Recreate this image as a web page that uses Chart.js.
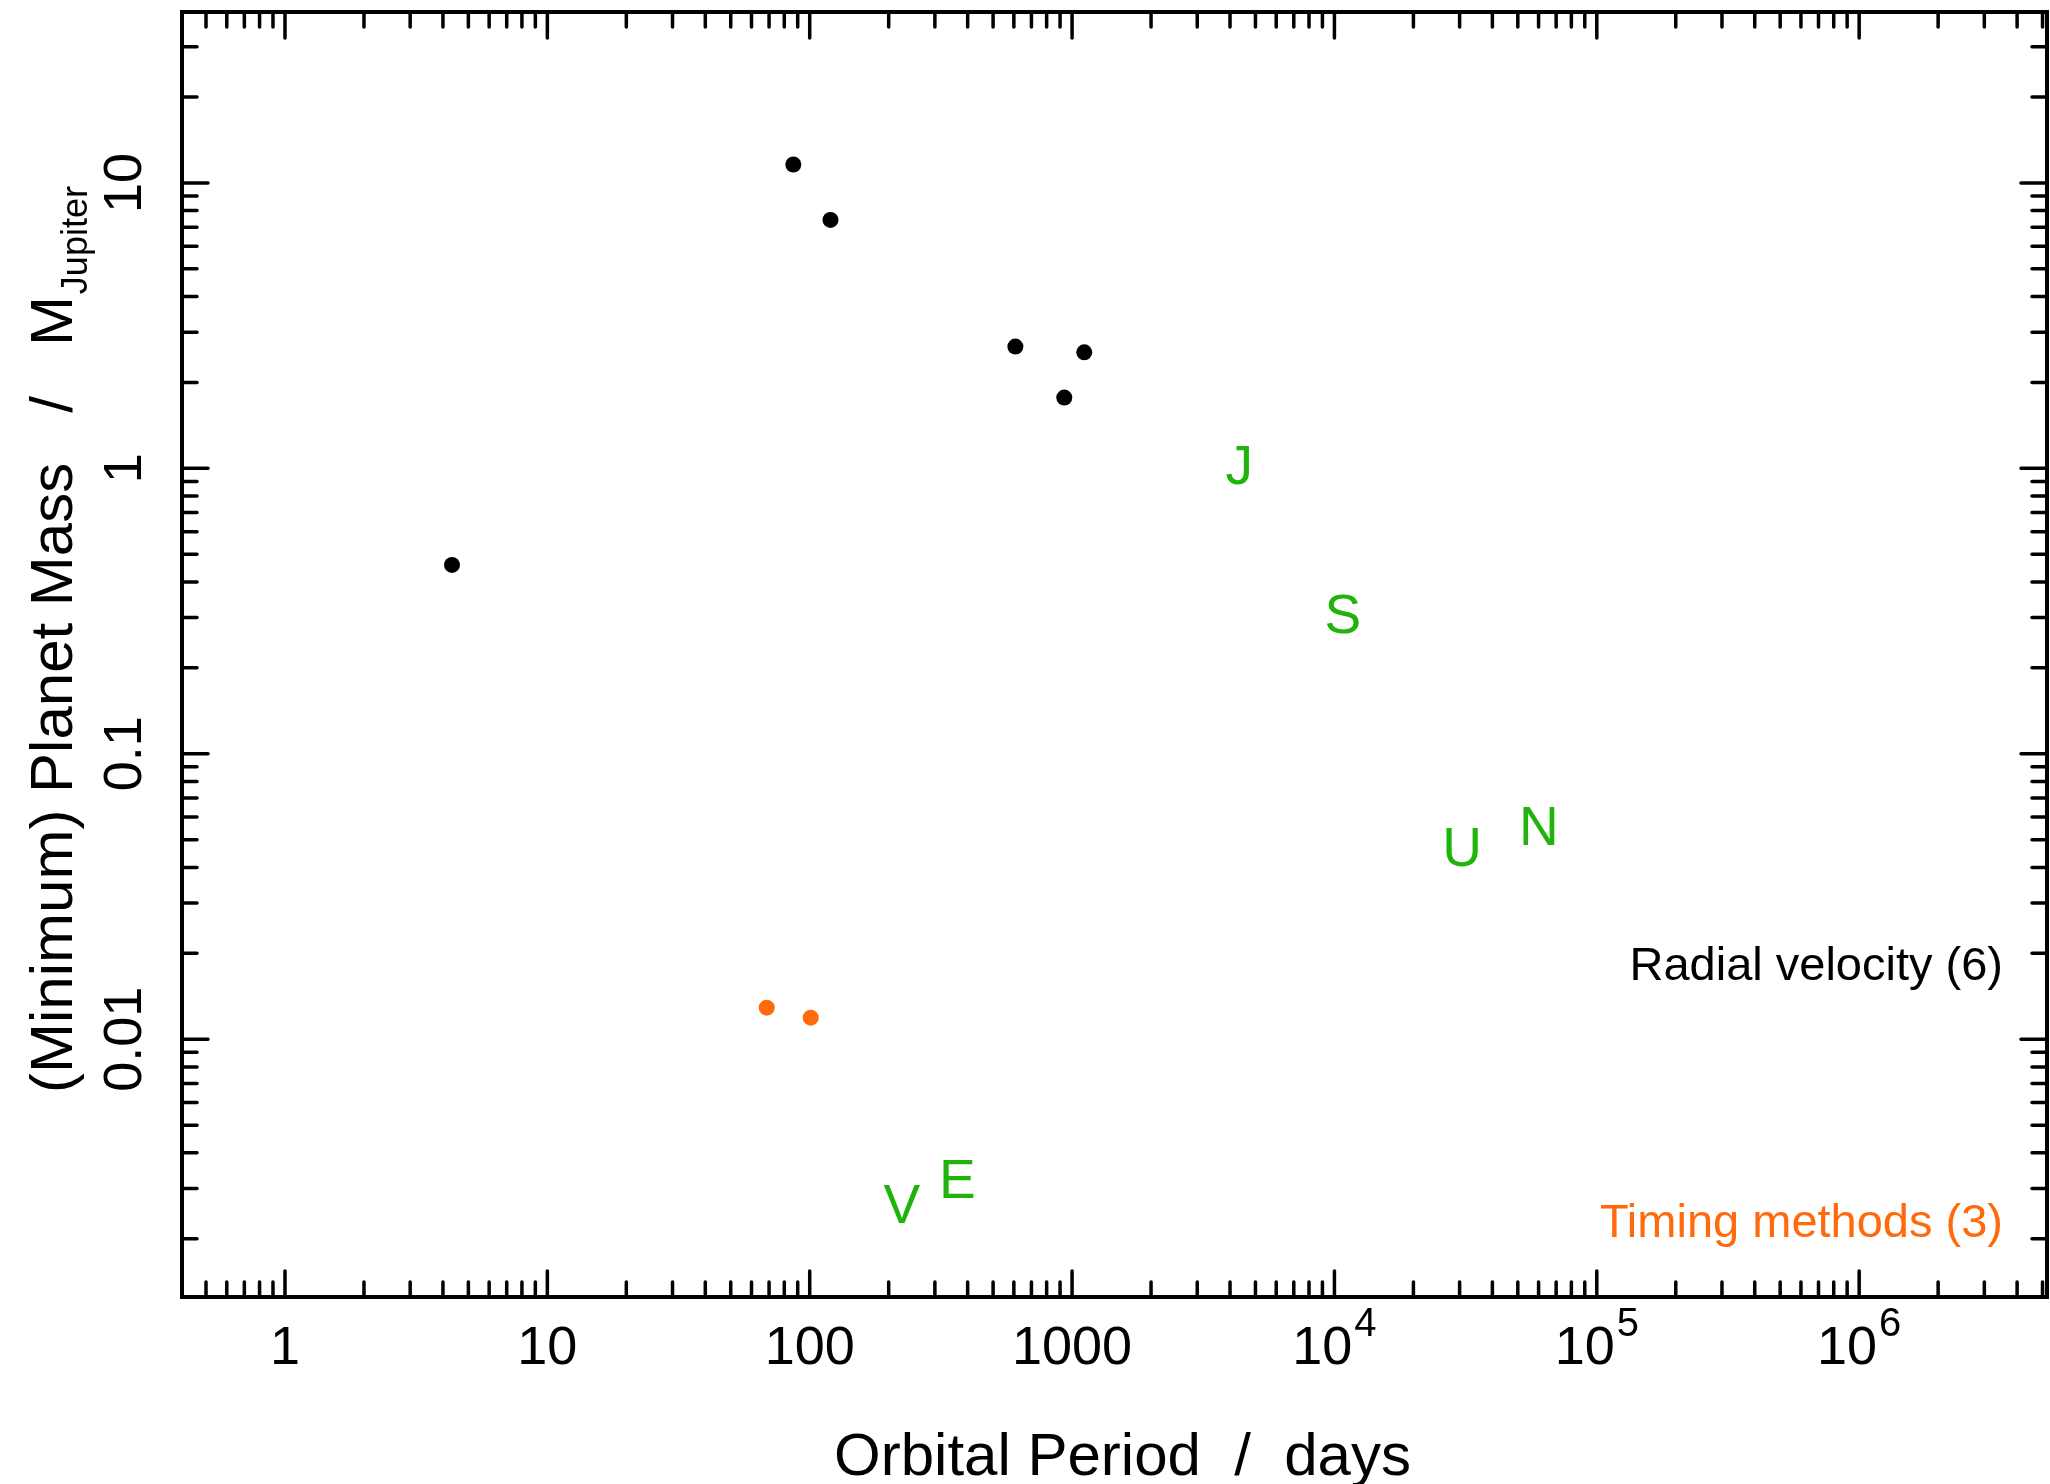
<!DOCTYPE html>
<html>
<head>
<meta charset="utf-8">
<title>Planet mass vs orbital period</title>
<script src="https://cdn.jsdelivr.net/npm/chart.js@4.4.1/dist/chart.umd.min.js"></script>
<style>
  html, body { margin: 0; padding: 0; background: #fff; }
  canvas { display: block; }
</style>
</head>
<body>
<canvas id="massChart" width="2050" height="1484"></canvas>
<script>
// radial velocity detections (days, Jupiter masses)
const rvPeriod = [4.33, 86.6, 120, 608, 934, 1113];
const rvMass = [0.459, 11.6, 7.42, 2.67, 1.77, 2.55];

// pulsar timing detections
const timingPeriod = [68.6, 100.9];
const timingMass = [0.0129, 0.0119];

// solar system planets, drawn as letters
const planetLetters = ['V', 'E', 'J', 'S', 'U', 'N'];
const planetPeriod = [224.7, 365.25, 4332.6, 10759, 30687, 60190];
const planetMass = [0.00256, 0.00315, 1.0, 0.299, 0.0457, 0.054];

// labelled ticks
const periodTicks = [1, 10, 100, 1000, 1e4, 1e5, 1e6];
const periodTickLabels = ['1', '10', '100', '1000', '10^4', '10^5', '10^6'];
const massTicks = [0.01, 0.1, 1, 10];
const massTickLabels = ['0.01', '0.1', '1', '10'];

const legendLabels = ['Radial velocity (6)', 'Timing methods (3)'];

const FONT = '"Liberation Sans", Arial, sans-serif';
const ORANGE = '#ff6a0d';
const GREEN = '#1fb30c';

function toPoints(xs, ys) {
    return xs.map((x, i) => ({ x: x, y: ys[i] }));
}

// every 1..9 x 10^n value inside [min, max]
function logTickValues(min, max) {
    const out = [];
    for (let e = Math.floor(Math.log10(min)); e <= Math.ceil(Math.log10(max)); e++) {
        for (let m = 1; m <= 9; m++) {
            const v = m * Math.pow(10, e);
            if (v >= min && v <= max) out.push({ v: v, major: m === 1 });
        }
    }
    return out;
}

const frame = {
    id: 'frame',
    afterDatasetsDraw(chart) {
        // solar system letters at the positions the scales gave the points
        const ctx = chart.ctx;
        const meta = chart.getDatasetMeta(2);
        ctx.save();
        ctx.fillStyle = GREEN;
        ctx.font = '55px ' + FONT;
        ctx.textAlign = 'center';
        ctx.textBaseline = 'middle';
        meta.data.forEach((pt, i) => {
            ctx.fillText(planetLetters[i], pt.x, pt.y);
        });
        ctx.restore();
    },
    afterDraw(chart) {
        const ctx = chart.ctx;
        const a = chart.chartArea;
        const xs = chart.scales.x;
        const ys = chart.scales.y;
        ctx.save();

        // box
        ctx.strokeStyle = '#000';
        ctx.lineWidth = 4;
        ctx.lineCap = 'round';
        ctx.strokeRect(a.left, a.top, a.right - a.left, a.bottom - a.top);

        // inward ticks on all four sides
        ctx.lineWidth = 3.5;
        ctx.beginPath();
        logTickValues(xs.min, xs.max).forEach(t => {
            const px = xs.getPixelForValue(t.v);
            const len = t.major ? 26 : 15;
            ctx.moveTo(px, a.bottom); ctx.lineTo(px, a.bottom - len);
            ctx.moveTo(px, a.top); ctx.lineTo(px, a.top + len);
        });
        logTickValues(ys.min, ys.max).forEach(t => {
            const py = ys.getPixelForValue(t.v);
            const len = t.major ? 26 : 15;
            ctx.moveTo(a.left, py); ctx.lineTo(a.left + len, py);
            ctx.moveTo(a.right, py); ctx.lineTo(a.right - len, py);
        });
        ctx.stroke();

        // x tick labels, powers written with a raised exponent
        ctx.fillStyle = '#000';
        ctx.textBaseline = 'alphabetic';
        ctx.textAlign = 'left';
        periodTicks.forEach((v, i) => {
            const px = xs.getPixelForValue(v);
            const parts = periodTickLabels[i].split('^');
            ctx.font = '54px ' + FONT;
            const wBase = ctx.measureText(parts[0]).width;
            let wExp = 0;
            if (parts[1]) {
                ctx.font = '40px ' + FONT;
                wExp = ctx.measureText(parts[1]).width + 2;
            }
            const x0 = px - (wBase + wExp) / 2;
            const base = a.bottom + 67;
            ctx.font = '54px ' + FONT;
            ctx.fillText(parts[0], x0, base);
            if (parts[1]) {
                ctx.font = '40px ' + FONT;
                ctx.fillText(parts[1], x0 + wBase + 2, base - 28);
            }
        });

        // y tick labels, rotated
        ctx.font = '54px ' + FONT;
        ctx.textAlign = 'center';
        massTicks.forEach((v, i) => {
            const py = ys.getPixelForValue(v);
            ctx.save();
            ctx.translate(a.left - 41, py);
            ctx.rotate(-Math.PI / 2);
            ctx.fillText(massTickLabels[i], 0, 0);
            ctx.restore();
        });

        // x axis title
        ctx.font = '60px ' + FONT;
        ctx.textAlign = 'center';
        ctx.fillText('Orbital Period  /  days', (a.left + a.right) / 2 + 8, a.bottom + 178);

        // y axis title with subscript
        const main = '(Minimum) Planet Mass   /   M';
        const sub = 'Jupiter';
        ctx.font = '60px ' + FONT;
        const wMain = ctx.measureText(main).width;
        ctx.font = '36px ' + FONT;
        const wSub = ctx.measureText(sub).width;
        ctx.save();
        ctx.translate(a.left - 110, (a.top + a.bottom) / 2 - 14);
        ctx.rotate(-Math.PI / 2);
        ctx.textAlign = 'left';
        const start = -(wMain + wSub) / 2;
        ctx.font = '60px ' + FONT;
        ctx.fillText(main, start, 0);
        ctx.font = '36px ' + FONT;
        ctx.fillText(sub, start + wMain + 2, 15);
        ctx.restore();

        // method labels
        ctx.font = '47px ' + FONT;
        ctx.textAlign = 'right';
        ctx.fillStyle = '#000';
        ctx.fillText(legendLabels[0], a.right - 44, a.bottom - 317);
        ctx.fillStyle = ORANGE;
        ctx.fillText(legendLabels[1], a.right - 44, a.bottom - 60);

        ctx.restore();
    }
};

new Chart(document.getElementById('massChart'), {
    type: 'scatter',
    data: {
        datasets: [
            {
                label: legendLabels[0],
                data: toPoints(rvPeriod, rvMass),
                backgroundColor: '#000',
                pointRadius: 8,
                pointBorderWidth: 0
            },
            {
                label: legendLabels[1],
                data: toPoints(timingPeriod, timingMass),
                backgroundColor: ORANGE,
                pointRadius: 8,
                pointBorderWidth: 0
            },
            {
                label: 'Solar System',
                data: toPoints(planetPeriod, planetMass),
                pointRadius: 0
            }
        ]
    },
    options: {
        responsive: false,
        devicePixelRatio: 1,
        animation: false,
        layout: { autoPadding: false, padding: { left: 182, top: 12, right: 3, bottom: 187 } },
        plugins: {
            legend: { display: false },
            tooltip: { enabled: false }
        },
        scales: {
            x: { type: 'logarithmic', min: 0.405, max: 5.2e6, display: false },
            y: { type: 'logarithmic', min: 0.00125, max: 39.7, display: false }
        }
    },
    plugins: [frame]
});
</script>
</body>
</html>
